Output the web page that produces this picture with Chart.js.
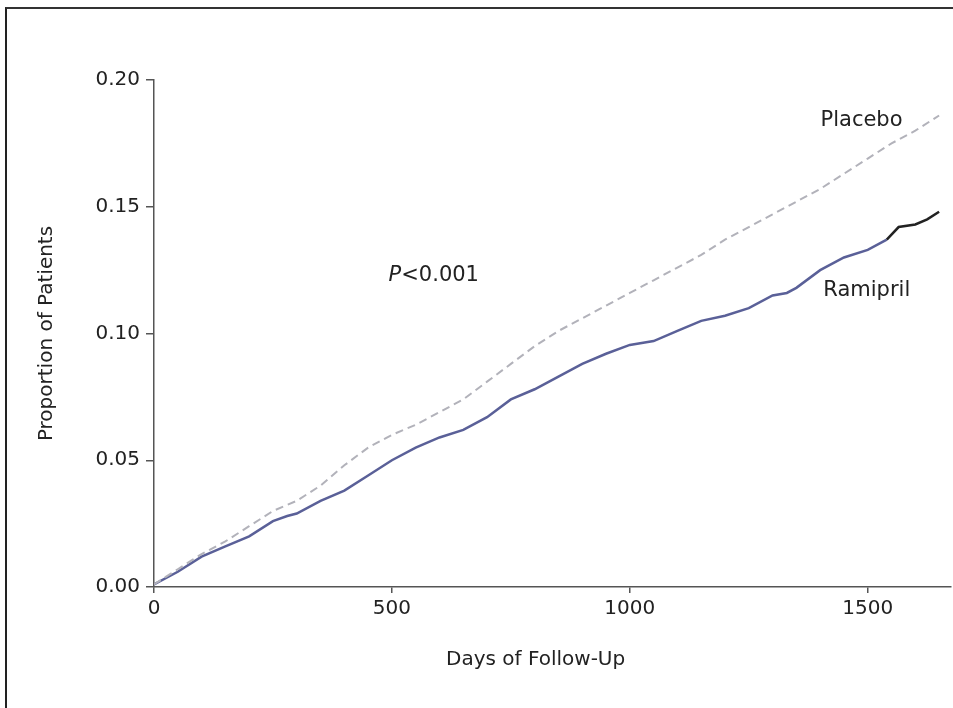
<!DOCTYPE html>
<html lang="en">
  <head>
    <meta charset="UTF-8" />
    <title>Proportion of Patients</title>
    <script src="https://cdn.jsdelivr.net/npm/chart.js@4.4.1/dist/chart.umd.min.js"></script>
    <style>
      html, body { margin: 0; background: #fff; overflow: hidden; }
      #wrap { position: relative; width: 953px; height: 708px; overflow: hidden; }
      #frame { position: absolute; left: 5px; top: 7px; width: 960px; height: 720px; border-left: 2px solid #222; border-top: 2px solid #333; }
      canvas { position: absolute; left: 0; top: 0; }
    </style>
  </head>
  <body>
    <div id="wrap">
      <div id="frame"></div>
      <canvas id="myChart" width="953" height="708"></canvas>
    </div>
    <script>
      const ramiprilDays = [0, 50, 100, 150, 200, 250, 280, 300, 350, 400, 450, 500, 550, 600, 650, 700, 750, 800, 850, 900, 950, 1000, 1050, 1100, 1150, 1200, 1250, 1300, 1330, 1350, 1400, 1450, 1500, 1540, 1565, 1600, 1625, 1650]
      const ramiprilValues = [0.001, 0.006, 0.012, 0.016, 0.020, 0.026, 0.028, 0.029, 0.034, 0.038, 0.044, 0.050, 0.055, 0.059, 0.062, 0.067, 0.074, 0.078, 0.083, 0.088, 0.092, 0.0955, 0.097, 0.101, 0.105, 0.107, 0.110, 0.115, 0.116, 0.118, 0.125, 0.130, 0.133, 0.137, 0.142, 0.143, 0.145, 0.148]

      const placeboDays = [0, 50, 100, 150, 200, 250, 300, 350, 400, 450, 500, 550, 600, 650, 700, 750, 800, 850, 900, 950, 1000, 1050, 1100, 1150, 1200, 1250, 1300, 1350, 1400, 1450, 1500, 1550, 1600, 1650]
      const placeboValues = [0.001, 0.007, 0.013, 0.018, 0.024, 0.030, 0.034, 0.040, 0.048, 0.055, 0.060, 0.064, 0.069, 0.074, 0.081, 0.088, 0.095, 0.101, 0.106, 0.111, 0.116, 0.121, 0.126, 0.131, 0.137, 0.142, 0.147, 0.152, 0.157, 0.163, 0.169, 0.175, 0.180, 0.186]

      const xTicks = [0, 500, 1000, 1500]
      const yTicks = [0, 0.05, 0.1, 0.15, 0.2]

      const FONT = "'DejaVu Sans', sans-serif"
      const axisColor = "#555"

      // text labels placed in data coordinates
      const labelsPlugin = {
        id: "curveLabels",
        afterDatasetsDraw(chart) {
          const { ctx, scales: { x, y } } = chart
          ctx.save()
          ctx.fillStyle = "#222"
          ctx.textBaseline = "middle"
          ctx.textAlign = "center"
          ctx.font = "21px " + FONT
          ctx.fillText("Placebo", x.getPixelForValue(1487), y.getPixelForValue(0.184))
          ctx.fillText("Ramipril", x.getPixelForValue(1498), y.getPixelForValue(0.117))
          ctx.font = "20px " + FONT
          ctx.fillText("Days of Follow-Up", x.getPixelForValue(802), 660)
          ctx.textAlign = "left"
          let px = x.getPixelForValue(493)
          const py = y.getPixelForValue(0.123)
          ctx.font = "italic 21px " + FONT
          ctx.fillText("P", px, py)
          px += ctx.measureText("P").width
          ctx.font = "21px " + FONT
          ctx.fillText("<0.001", px, py)
          ctx.restore()
        },
      }

      const ctx = document.getElementById("myChart").getContext("2d")
      const myChart = new Chart(ctx, {
        type: "line",
        data: {
          datasets: [
            {
              label: "Placebo",
              data: placeboDays.map((d, i) => ({ x: d, y: placeboValues[i] })),
              borderColor: "#b2b2ba",
              borderWidth: 2,
              borderDash: [8, 5],
              pointRadius: 0,
              tension: 0,
            },
            {
              label: "Ramipril",
              data: ramiprilDays.map((d, i) => ({ x: d, y: ramiprilValues[i] })),
              borderColor: "#5a6098",
              borderWidth: 2.5,
              pointRadius: 0,
              tension: 0,
              segment: {
                borderColor: (c) => (c.p0.parsed.x >= 1540 ? "#222" : "#5a6098"),
              },
            },
          ],
        },
        options: {
          responsive: false,
          animation: false,
          layout: { padding: { top: 80, left: 31, right: 2, bottom: 32 } },
          plugins: { legend: { display: false }, tooltip: { enabled: false } },
          scales: {
            x: {
              type: "linear",
              min: 0,
              max: 1675,
              afterBuildTicks: (s) => { s.ticks = xTicks.map((v) => ({ value: v })) },
              afterFit: (s) => { s.height = 89 },
              ticks: { color: "#222", font: { family: FONT, size: 20 }, padding: 4, maxRotation: 0, callback: (v) => String(v) },
              grid: { drawOnChartArea: false, drawTicks: true, tickLength: 6, color: axisColor, lineWidth: 1.5 },
              border: { display: true, color: axisColor, width: 1.5 },
              title: { display: false },
            },
            y: {
              min: 0,
              max: 0.2,
              afterBuildTicks: (s) => { s.ticks = yTicks.map((v) => ({ value: v })) },
              afterFit: (s) => { s.width = 123 },
              ticks: { color: "#222", font: { family: FONT, size: 20 }, padding: 6, callback: (v) => v.toFixed(2) },
              grid: { drawOnChartArea: false, drawTicks: true, tickLength: 8, color: axisColor, lineWidth: 1.5 },
              border: { display: true, color: axisColor, width: 1.5 },
              title: { display: true, text: "Proportion of Patients", color: "#222", font: { family: FONT, size: 20 } },
            },
          },
        },
        plugins: [labelsPlugin],
      })
    </script>
  </body>
</html>
